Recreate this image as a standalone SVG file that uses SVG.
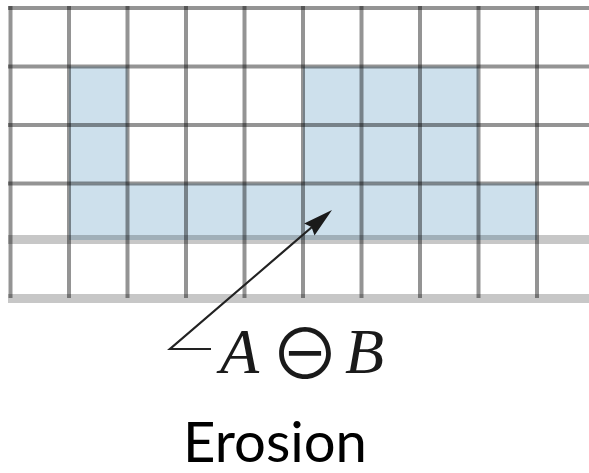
<svg xmlns="http://www.w3.org/2000/svg" width="589" height="473" viewBox="0 0 589 473">
<style>
.cell{fill:#cde0ec}
.g{stroke:#000;stroke-opacity:0.42;stroke-width:4;fill:none}
.band{stroke:#000;stroke-opacity:0.22;stroke-width:9;fill:none}
.math{font-family:"Liberation Serif",serif;font-style:italic;font-size:64px;fill:#1a1a1a}
.op{font-family:"Noto Sans CJK JP","DejaVu Sans",sans-serif;font-size:70px;fill:#1a1a1a}
.cap{font-family:"Lato",sans-serif;font-size:56px;fill:#000}
</style>
<rect width="589" height="473" fill="#fff"/>
<g id="cells">
<rect class="cell" x="69" y="66.5" width="58.5" height="117"/>
<rect class="cell" x="303" y="66.5" width="175.5" height="117"/>
<rect class="cell" x="69" y="183.5" width="468" height="56.5"/>
</g>
<g id="grid">
<path class="g" d="M8 8H589M8 66.5H589M8 125H589M8 183.5H589"/>
<path class="g" d="M10.5 6V298M69 6V298M127.5 6V298M186 6V298M244.5 6V298M303 6V298M361.5 6V298M420 6V298M478.5 6V298M537 6V298"/>
<path class="band" d="M8 239.5H589M8 298.5H589"/>
</g>
<g id="connectors">
<path d="M211 349H170L312 227" stroke="#222" stroke-width="2.2" fill="none"/>
<polygon points="332,210 314.5,235.6 311.5,227 304.1,223.4" fill="#1a1a1a"/>
</g>
<g id="label">
<text class="math" x="220" y="373">A</text>
<text class="op" x="305" y="380" text-anchor="middle">⊖</text>
<text class="math" x="345" y="373">B</text>
</g>
<g id="caption">
<text class="cap" x="275" y="462" text-anchor="middle" textLength="184" lengthAdjust="spacingAndGlyphs">Erosion</text>
</g>
</svg>
